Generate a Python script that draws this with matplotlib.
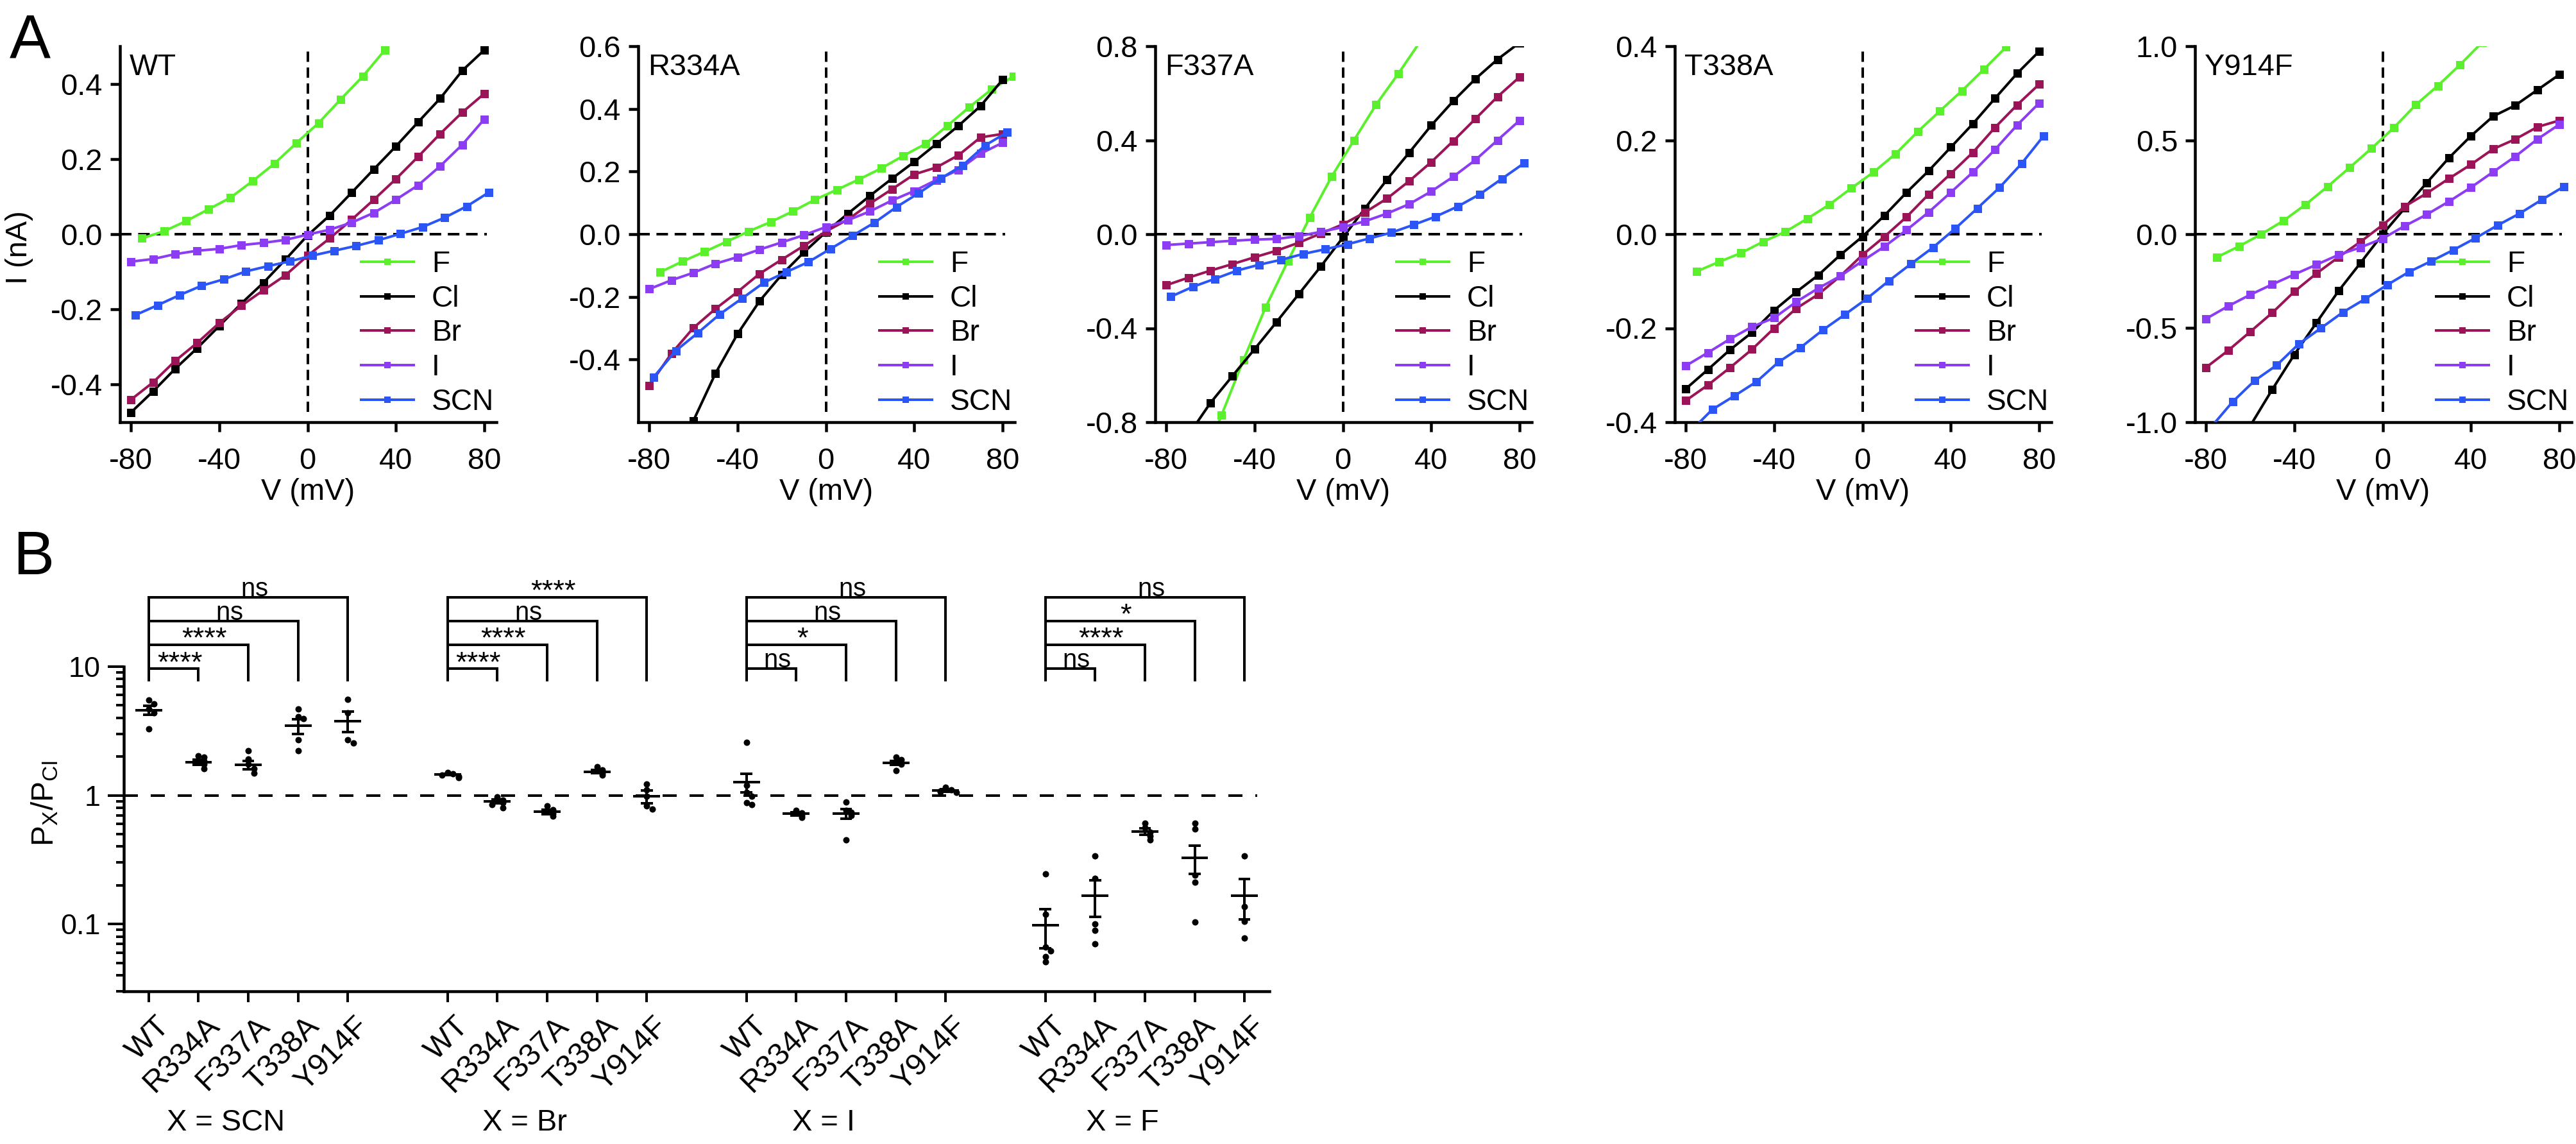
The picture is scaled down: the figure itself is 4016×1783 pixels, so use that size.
import numpy as np
import matplotlib
matplotlib.use("Agg")
import matplotlib.pyplot as plt
import matplotlib.transforms as mtransforms
from matplotlib.ticker import LogLocator, NullFormatter, FixedLocator, FormatStrFormatter

# -------------------- Config --------------------
W, H, DPI = 4016, 1783, 72
plt.rcParams['font.family'] = ['Liberation Sans', 'DejaVu Sans']
plt.rcParams['axes.unicode_minus'] = False
plt.rcParams['mathtext.fontset'] = 'custom'
plt.rcParams['mathtext.rm'] = 'Liberation Sans'
plt.rcParams['mathtext.it'] = 'Liberation Sans:italic'

nan = np.nan

# -------------------- Data: panel A (I-V curves) --------------------
V_CL = [-80, -70, -60, -50, -40, -30, -20, -10, 0, 10, 20, 30, 40, 50, 60, 70, 80]
V_F = [-75, -65, -55, -45, -35, -25, -15, -5, 5, 15, 25, 35, 45, 55, 65, 75, 85]
V_SCN = [-78, -68, -58, -48, -38, -28, -18, -8, 2, 12, 22, 32, 42, 52, 62, 72, 82]

WT_F = [-0.011, 0.008, 0.035, 0.066, 0.097, 0.141, 0.188, 0.243, 0.296, 0.359, 0.420, 0.490, nan, nan, nan, nan, nan]
WT_CL = [-0.474, -0.418, -0.358, -0.303, -0.244, -0.184, -0.129, -0.067, -0.003, 0.050, 0.111, 0.173, 0.234, 0.298, 0.361, 0.435, 0.490]
WT_BR = [-0.440, -0.394, -0.337, -0.289, -0.236, -0.190, -0.149, -0.109, -0.057, -0.011, 0.039, 0.092, 0.147, 0.206, 0.267, 0.324, 0.374]
WT_I = [-0.073, -0.066, -0.053, -0.044, -0.039, -0.029, -0.023, -0.015, -0.001, 0.012, 0.031, 0.057, 0.092, 0.130, 0.181, 0.238, 0.306]
WT_SCN = [-0.215, -0.189, -0.162, -0.137, -0.120, -0.099, -0.085, -0.072, -0.057, -0.044, -0.031, -0.016, 0.001, 0.019, 0.044, 0.074, 0.111]

R334A_F = [-0.121, -0.087, -0.056, -0.024, 0.009, 0.039, 0.073, 0.110, 0.142, 0.175, 0.210, 0.250, 0.288, 0.346, 0.406, 0.462, 0.504]
R334A_CL = [nan, nan, -0.595, -0.444, -0.318, -0.213, -0.129, -0.058, 0.007, 0.066, 0.123, 0.178, 0.231, 0.288, 0.346, 0.409, 0.493]
R334A_BR = [-0.483, -0.381, -0.299, -0.238, -0.184, -0.126, -0.081, -0.037, 0.009, 0.047, 0.098, 0.144, 0.191, 0.213, 0.252, 0.309, 0.320]
R334A_I = [-0.175, -0.147, -0.123, -0.094, -0.073, -0.049, -0.026, -0.003, 0.023, 0.045, 0.073, 0.108, 0.138, 0.173, 0.205, 0.257, 0.292]
R334A_SCN = [-0.456, -0.372, -0.315, -0.255, -0.205, -0.154, -0.121, -0.089, -0.047, -0.005, 0.037, 0.087, 0.131, 0.178, 0.220, 0.283, 0.325]

F337A_F = [nan, -1.0, -0.771, -0.534, -0.311, -0.116, 0.072, 0.247, 0.400, 0.551, 0.682, 0.82, nan, nan, nan, nan, nan]
F337A_CL = [nan, -0.855, -0.718, -0.603, -0.489, -0.373, -0.255, -0.137, -0.014, 0.110, 0.233, 0.347, 0.463, 0.567, 0.661, 0.744, 0.815]
F337A_BR = [-0.217, -0.185, -0.155, -0.127, -0.098, -0.070, -0.036, 0.003, 0.042, 0.093, 0.152, 0.226, 0.307, 0.397, 0.491, 0.585, 0.669]
F337A_I = [-0.046, -0.040, -0.034, -0.028, -0.023, -0.020, -0.008, 0.010, 0.030, 0.055, 0.088, 0.128, 0.182, 0.245, 0.316, 0.400, 0.484]
F337A_SCN = [-0.266, -0.224, -0.190, -0.155, -0.130, -0.109, -0.084, -0.064, -0.043, -0.018, 0.007, 0.040, 0.075, 0.118, 0.170, 0.236, 0.302]

T338A_F = [-0.079, -0.059, -0.040, -0.016, 0.005, 0.033, 0.063, 0.098, 0.132, 0.171, 0.218, 0.262, 0.305, 0.351, 0.398, nan, nan]
T338A_CL = [-0.329, -0.288, -0.246, -0.209, -0.162, -0.123, -0.087, -0.044, -0.005, 0.040, 0.089, 0.135, 0.185, 0.235, 0.289, 0.342, 0.389]
T338A_BR = [-0.354, -0.321, -0.284, -0.245, -0.200, -0.158, -0.128, -0.089, -0.044, -0.005, 0.037, 0.085, 0.129, 0.174, 0.227, 0.275, 0.319]
T338A_I = [-0.280, -0.252, -0.223, -0.197, -0.178, -0.144, -0.115, -0.089, -0.057, -0.026, 0.009, 0.047, 0.089, 0.132, 0.180, 0.232, 0.279]
T338A_SCN = [-0.42, -0.373, -0.344, -0.314, -0.272, -0.241, -0.204, -0.171, -0.137, -0.099, -0.063, -0.028, 0.012, 0.055, 0.099, 0.150, 0.209]

Y914F_F = [-0.122, -0.064, 0.000, 0.071, 0.157, 0.253, 0.354, 0.457, 0.566, 0.688, 0.790, 0.901, 1.02, nan, nan, nan, nan]
Y914F_CL = [nan, nan, -1.02, -0.826, -0.640, -0.471, -0.302, -0.152, 0.000, 0.139, 0.274, 0.406, 0.523, 0.627, 0.685, 0.767, 0.849]
Y914F_BR = [-0.709, -0.619, -0.519, -0.418, -0.305, -0.209, -0.122, -0.040, 0.049, 0.148, 0.218, 0.296, 0.371, 0.453, 0.505, 0.570, 0.605]
Y914F_I = [-0.450, -0.383, -0.322, -0.267, -0.214, -0.162, -0.110, -0.070, -0.023, 0.044, 0.105, 0.174, 0.249, 0.331, 0.413, 0.505, 0.584]
Y914F_SCN = [-1.03, -0.892, -0.779, -0.697, -0.584, -0.500, -0.415, -0.345, -0.270, -0.200, -0.143, -0.084, -0.021, 0.047, 0.110, 0.183, 0.253]

PANELS = ["WT", "R334A", "F337A", "T338A", "Y914F"]
IONS = ["F", "Cl", "Br", "I", "SCN"]
ION_V = [V_F, V_CL, V_CL, V_CL, V_SCN]
ION_COLORS = ["#5af02b", "#000000", "#9a1457", "#8c3cf2", "#2b55f5"]
CURRENTS = [
    [WT_F, WT_CL, WT_BR, WT_I, WT_SCN],
    [R334A_F, R334A_CL, R334A_BR, R334A_I, R334A_SCN],
    [F337A_F, F337A_CL, F337A_BR, F337A_I, F337A_SCN],
    [T338A_F, T338A_CL, T338A_BR, T338A_I, T338A_SCN],
    [Y914F_F, Y914F_CL, Y914F_BR, Y914F_I, Y914F_SCN],
]
YLIMS = [(-0.5, 0.5), (-0.6, 0.6), (-0.8, 0.8), (-0.4, 0.4), (-1.0, 1.0)]
YTICKS = [
    [-0.4, -0.2, 0.0, 0.2, 0.4],
    [-0.4, -0.2, 0.0, 0.2, 0.4, 0.6],
    [-0.8, -0.4, 0.0, 0.4, 0.8],
    [-0.4, -0.2, 0.0, 0.2, 0.4],
    [-1.0, -0.5, 0.0, 0.5, 1.0],
]

# -------------------- Data: panel B (permeability ratios) --------------------
GROUPS = ["SCN", "Br", "I", "F"]
MUTANTS = ["WT", "R334A", "F337A", "T338A", "Y914F"]

SCN_PTS = [[5.5, 5.15, 4.7, 4.4, 3.3], [2.03, 1.99, 1.84, 1.74, 1.61], [2.23, 1.91, 1.74, 1.61, 1.49],
           [4.69, 4.1, 3.95, 2.70, 2.23], [5.54, 4.40, 2.71, 2.56]]
SCN_MEAN = [4.6, 1.81, 1.73, 3.46, 3.79]
SCN_SEM = [0.37, 0.08, 0.13, 0.45, 0.68]

BR_PTS = [[1.50, 1.47, 1.44, 1.40, 1.38], [0.97, 0.92, 0.88, 0.85, 0.80], [0.83, 0.77, 0.72, 0.69],
          [1.67, 1.58, 1.48, 1.44], [1.22, 1.10, 0.98, 0.83, 0.78]]
BR_MEAN = [1.45, 0.90, 0.745, 1.53, 0.98]
BR_SEM = [0.02, 0.03, 0.03, 0.05, 0.11]

I_PTS = [[2.58, 1.20, 1.05, 0.98, 0.88, 0.85], [0.76, 0.73, 0.70, 0.67], [0.89, 0.76, 0.74, 0.70, 0.45],
         [1.98, 1.90, 1.80, 1.75, 1.56], [1.15, 1.10, 1.08, 1.06, 1.05]]
I_MEAN = [1.26, 0.72, 0.72, 1.79, 1.09]
I_SEM = [0.21, 0.02, 0.06, 0.07, 0.02]

F_PTS = [[0.246, 0.119, 0.066, 0.062, 0.056, 0.051], [0.34, 0.227, 0.100, 0.089, 0.070],
         [0.61, 0.56, 0.52, 0.48, 0.45], [0.61, 0.55, 0.24, 0.212, 0.104], [0.34, 0.137, 0.105, 0.078]]
F_MEAN = [0.098, 0.166, 0.523, 0.326, 0.166]
F_SEM = [0.033, 0.053, 0.028, 0.08, 0.058]

SIG_SCN = ["****", "****", "ns", "ns"]
SIG_BR = ["****", "****", "ns", "****"]
SIG_I = ["ns", "*", "ns", "ns"]
SIG_F = ["ns", "****", "*", "ns"]

GROUP_PTS = [SCN_PTS, BR_PTS, I_PTS, F_PTS]
GROUP_MEAN = [SCN_MEAN, BR_MEAN, I_MEAN, F_MEAN]
GROUP_SEM = [SCN_SEM, BR_SEM, I_SEM, F_SEM]
GROUP_SIG = [SIG_SCN, SIG_BR, SIG_I, SIG_F]

# -------------------- Helpers --------------------
fig = plt.figure(figsize=(W / DPI, H / DPI), dpi=DPI)


def add_axes_px(left, top, width, height):
    return fig.add_axes([left / W, 1 - (top + height) / H, width / W, height / H])


def fig_text_px(x, y, s, **kw):
    return fig.text(x / W, 1 - y / H, s, **kw)


def swarm_offsets(vals, tol=0.035, step=0.11):
    logs = np.log10(vals)
    offs = np.zeros(len(vals))
    placed = []
    for i, lv in enumerate(logs):
        n = sum(1 for p in placed if abs(p - lv) < tol)
        offs[i] = [0, 1, -1, 2, -2, 3, -3][min(n, 6)] * step
        placed.append(lv)
    return offs


# -------------------- Panel A --------------------
A_LEFT = [187, 995, 1801, 2611, 3422]
A_TOP, A_W, A_H = 72, 587, 586
XLIM = (-85, 85.5)

for i, name in enumerate(PANELS):
    ax = add_axes_px(A_LEFT[i], A_TOP, A_W, A_H)
    ax.set_xlim(*XLIM)
    ax.set_ylim(*YLIMS[i])

    ax.axhline(0, xmin=0, xmax=(81 - XLIM[0]) / (XLIM[1] - XLIM[0]), color="black",
               lw=4, dashes=(4.5, 2.6), zorder=1)
    ax.axvline(0, ymin=0.027, ymax=1, color="black", lw=4, dashes=(4.0, 2.2), zorder=1)

    handles = []
    for j, ion in enumerate(IONS):
        ln, = ax.plot(ION_V[j], CURRENTS[i][j], color=ION_COLORS[j], lw=4, marker="s",
                      ms=13, mew=0, label=ion, zorder=2 + j)
        handles.append(ln)

    for s in ["top", "right"]:
        ax.spines[s].set_visible(False)
    for s in ["left", "bottom"]:
        ax.spines[s].set_linewidth(4.5)
    ax.set_xticks([-80, -40, 0, 40, 80])
    ax.set_yticks(YTICKS[i])
    ax.yaxis.set_major_formatter(FormatStrFormatter("%.1f"))
    ax.tick_params(axis="both", length=15, width=4.5, labelsize=47)
    ax.tick_params(axis="x", pad=24)
    ax.tick_params(axis="y", pad=12)
    ax.set_xlabel("V (mV)", fontsize=47, labelpad=4)

    ax.text(15 / A_W, 1 - 11 / A_H, name, transform=ax.transAxes, fontsize=47,
            ha="left", va="top")

    ax.legend(handles=handles, loc="lower left", bbox_to_anchor=(0.64, 0.016),
              frameon=False, fontsize=46, handlelength=1.8, handletextpad=0.6,
              labelspacing=0.21, markerscale=0.7, numpoints=1, borderpad=0,
              borderaxespad=0)

fig_text_px(30, 386, "I (nA)", rotation=90, fontsize=47, ha="center", va="center")
fig_text_px(15, 20, "A", fontsize=96, ha="left", va="top")

# -------------------- Panel B --------------------
axb = add_axes_px(193, 1039, 1786, 506)
axb.set_yscale("log")
axb.set_xlim(-0.5, 22.5)
axb.set_ylim(0.03, 10)

axb.axhline(1, xmin=0, xmax=(22.25 + 0.5) / 23, color="black", lw=4, dashes=(5.5, 5), zorder=1)

tick_pos = []
tick_lab = []
trans = mtransforms.blended_transform_factory(axb.transData, axb.transAxes)
LEVELS = [0.994, 1.068, 1.141, 1.214]
DROP = 0.955

for g, grp in enumerate(GROUPS):
    base = 6 * g
    for k, mut in enumerate(MUTANTS):
        p = base + k
        tick_pos.append(p)
        tick_lab.append(mut)
        pts = np.array(GROUP_PTS[g][k])
        axb.plot(p + swarm_offsets(pts), pts, "o", color="black", ms=10, mew=0, zorder=3)
        m = GROUP_MEAN[g][k]
        s = GROUP_SEM[g][k]
        axb.plot([p - 0.27, p + 0.27], [m, m], color="black", lw=4, solid_capstyle="butt", zorder=4)
        axb.plot([p, p], [m - s, m + s], color="black", lw=4, solid_capstyle="butt", zorder=4)
        for yv in (m - s, m + s):
            axb.plot([p - 0.12, p + 0.12], [yv, yv], color="black", lw=4,
                     solid_capstyle="butt", zorder=4)

    # comparison brackets vs WT
    for k in range(1, 5):
        y = LEVELS[k - 1]
        axb.plot([base, base, base + k, base + k], [DROP, y, y, DROP], color="black", lw=4,
                 transform=trans, clip_on=False, solid_capstyle="butt", solid_joinstyle="miter")
        lab = GROUP_SIG[g][k - 1]
        if lab == "ns":
            axb.annotate(r"$\mathregular{ns}$", xy=(base + k / 2 + 0.12, y), xycoords=trans,
                         xytext=(0, 2), textcoords="offset points", ha="center", va="baseline",
                         fontsize=40, annotation_clip=False)
        else:
            axb.annotate(lab, xy=(base + k / 2 + 0.12, y), xycoords=trans, xytext=(0, -4),
                         textcoords="offset points", ha="center", va="baseline", fontsize=45,
                         annotation_clip=False)

    axb.text(base + 2 - 0.45, 1 - 1750 / H, "X = " + grp, fontsize=47, ha="center", va="center",
             transform=mtransforms.blended_transform_factory(axb.transData, fig.transFigure))

for s in ["top", "right"]:
    axb.spines[s].set_visible(False)
for s in ["left", "bottom"]:
    axb.spines[s].set_linewidth(4.5)

axb.yaxis.set_major_locator(FixedLocator([0.1, 1, 10]))
axb.set_yticklabels(["0.1", "1", "10"])
axb.yaxis.set_minor_locator(LogLocator(base=10, subs=np.arange(2, 10), numticks=20))
axb.yaxis.set_minor_formatter(NullFormatter())
axb.tick_params(axis="y", which="major", length=25, width=4, labelsize=45, pad=11)
axb.tick_params(axis="y", which="minor", length=12, width=4)

axb.set_xticks(tick_pos)
axb.set_xticklabels(tick_lab, rotation=45, ha="right", va="top", rotation_mode="anchor", fontsize=48)
axb.tick_params(axis="x", length=17, width=4, pad=14)
offset = mtransforms.ScaledTranslation(10 / 72, 0, fig.dpi_scale_trans)
for lab in axb.get_xticklabels():
    lab.set_transform(lab.get_transform() + offset)

fig_text_px(70, 1252, r"P$_\mathregular{X}$/P$_\mathregular{Cl}$", rotation=90, fontsize=48,
            ha="center", va="center")
fig_text_px(20, 825, "B", fontsize=96, ha="left", va="top")

fig.savefig("out.png", dpi=DPI, facecolor="white")
